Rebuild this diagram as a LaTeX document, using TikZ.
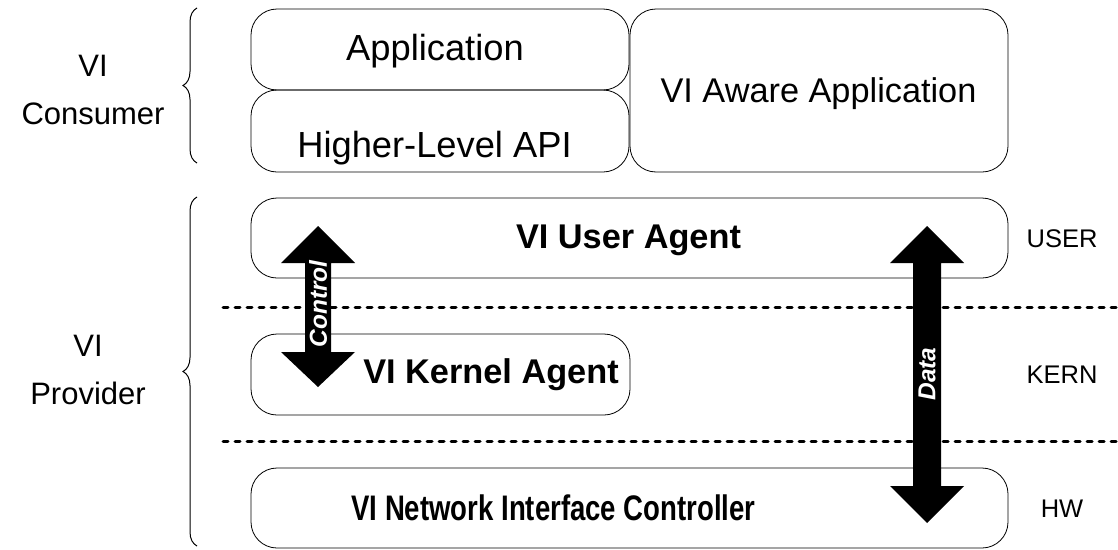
\documentclass[tikz,border=0pt]{standalone}
\usepackage{fontspec}
\usepackage{graphicx}
\setmainfont{Liberation Sans}
\usetikzlibrary{decorations.pathreplacing}

\tikzset{
  layer/.style={draw=black, line width=0.8pt, rounded corners=26pt, inner sep=0pt},
  plain/.style={font=\fontsize{36.3}{42}\selectfont, anchor=base, inner sep=0pt},
  agent/.style={font=\fontsize{34.3}{40}\selectfont\bfseries, anchor=base, inner sep=0pt},
  ring/.style={font=\fontsize{25.5}{30}\selectfont, anchor=base, inner sep=0pt},
  role/.style={font=\fontsize{31}{48}\selectfont, align=center, inner sep=0pt},
  flow/.style={font=\fontsize{24.5}{28}\selectfont\bfseries\itshape, text=white, rotate=90, inner sep=0pt},
  divider/.style={line width=3pt, line cap=round, dash pattern=on 5pt off 7pt},
  grouping/.style={line width=1pt, decorate, decoration={brace, amplitude=14pt}},
}

\begin{document}
\begin{tikzpicture}[x=1pt, y=-1pt]
\useasboundingbox (0,0) rectangle (1118,549);

% privilege boundaries
\coordinate (d1a) at (223,307);
\coordinate (d1b) at (1120,307);
\coordinate (d2a) at (223,441);
\coordinate (d2b) at (1120,441);
\draw[divider] (d1a) -- (d1b);
\draw[divider] (d2a) -- (d2b);

% consumer layers
\node[layer, minimum width=378, minimum height=81] (app) at (440,49.5) {};
\node[layer, minimum width=378, minimum height=82] (hlapi) at (440,131) {};
\node[layer, minimum width=378, minimum height=163] (aware) at (819,90.5) {};

% provider layers
\node[layer, minimum width=757, minimum height=80] (user) at (629.5,238) {};
\node[layer, minimum width=379, minimum height=81] (kern) at (440.5,374.5) {};
\node[layer, minimum width=757, minimum height=80] (nic) at (629.5,508) {};

% layer labels
\node[plain] (tapp) at (435,60) {Application};
\node[plain] (thl) at (434.5,157) {Higher-Level API};
\node[plain, font=\fontsize{34.3}{42}\selectfont] (taware) at (818.5,102) {VI Aware Application};
\node[agent] (tuser) at (628.5,248) {VI User Agent};
\node[agent] (tkern) at (491,383) {VI Kernel Agent};
\node[agent, font=\fontsize{35.5}{40}\selectfont\bfseries] (tnic) at (553.5,520)
  {\scalebox{0.776}[1]{VI Network Interface Controller}};

% ring labels
\node[ring] (luser) at (1062,247) {USER};
\node[ring] (lkern) at (1062,383) {KERN};
\node[ring] (lhw) at (1062,517) {HW};

% groupings
\node[role] (cons) at (93,90) {VI\\Consumer};
\node[role] (prov) at (88,370) {VI\\Provider};
\coordinate (b1a) at (197,163);
\coordinate (b1b) at (197,8);
\coordinate (b2a) at (197,546);
\coordinate (b2b) at (197,197);
\draw[grouping] (b1a) -- (b1b);
\draw[grouping] (b2a) -- (b2b);

% control path
\fill (318,226) -- (355,263) -- (331,263) -- (331,352) -- (355,352) -- (318,387)
      -- (281,352) -- (305,352) -- (305,263) -- (281,263) -- cycle;
\node[flow] (tctl) at (318,304) {Control};

% data path
\fill (927,226) -- (964,263) -- (941,263) -- (941,486) -- (964,486) -- (927,523)
      -- (890,486) -- (913,486) -- (913,263) -- (890,263) -- cycle;
\node[flow] (tdata) at (927,374) {Data};
\end{tikzpicture}
\end{document}
